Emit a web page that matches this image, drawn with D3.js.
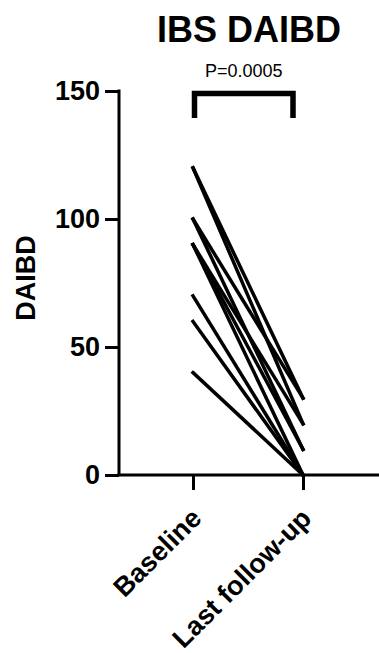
<!DOCTYPE html>
<html>
<head>
<meta charset="utf-8">
<script src="https://cdn.jsdelivr.net/npm/d3@7"></script>
<style>
  html, body { margin: 0; padding: 0; background: #fff; }
  svg { display: block; font-family: "Liberation Sans", Arial, Helvetica, sans-serif; }
</style>
</head>
<body>
<svg id="chart" width="379" height="653"></svg>
<script>
// ---- data ----
const categories = ["Baseline", "Last follow-up"];
const baselineValues = [120, 120, 100, 100, 90, 90, 90, 70, 60, 40];
const followupValues = [30, 20, 30, 10, 20, 10, 0, 0, 0, 0];
const yTicks = [0, 50, 100, 150];
const titleText = "IBS DAIBD";
const yLabel = "DAIBD";
const pText = "P=0.0005";

// ---- layout ----
const svg = d3.select("#chart");
const axisX0 = 119, axisX1 = 379;
const yTop = 91, yBottom = 475;

const x = d3.scalePoint().domain(categories).range([193, 303]);
const y = d3.scaleLinear().domain([0, 150]).range([yBottom, yTop]);

// subject lines
const subjects = baselineValues.map((b, i) => [b, followupValues[i]]);
svg.append("g")
  .selectAll("line")
  .data(subjects)
  .join("line")
  .attr("x1", x(categories[0]))
  .attr("y1", d => y(d[0]))
  .attr("x2", x(categories[1]))
  .attr("y2", d => y(d[1]))
  .attr("stroke", "#000")
  .attr("stroke-width", 3.5)
  .attr("stroke-linecap", "square");

// y axis
const yAxis = svg.append("g")
  .attr("transform", `translate(${axisX0},0)`)
  .call(d3.axisLeft(y).tickValues(yTicks).tickSize(14).tickSizeOuter(0).tickPadding(5));
yAxis.select(".domain").attr("stroke-width", 3).attr("stroke", "#000");
yAxis.selectAll(".tick line").attr("stroke-width", 3).attr("stroke", "#000");
yAxis.selectAll(".tick text")
  .attr("font-size", 27).attr("font-weight", "bold").attr("fill", "#000")
  .attr("font-family", "Liberation Sans, Arial, sans-serif");
yAxis.select(".domain").attr("d", `M0,${yTop - 1.5}V${yBottom}`);

// x axis
const xAxis = svg.append("g")
  .attr("transform", `translate(0,${yBottom})`)
  .call(d3.axisBottom(x).tickSize(15).tickSizeOuter(0).tickFormat(""));
xAxis.select(".domain").attr("d", `M${axisX0 - 1.5},0H${axisX1}`).attr("stroke-width", 3).attr("stroke", "#000");
xAxis.selectAll(".tick line").attr("stroke-width", 3).attr("stroke", "#000");

// rotated x labels
svg.append("g")
  .selectAll("text")
  .data(categories)
  .join("text")
  .attr("transform", d => `translate(${x(d) + 10},${yBottom + 45}) rotate(-45)`)
  .attr("text-anchor", "end")
  .attr("font-size", 27)
  .attr("font-weight", "bold")
  .attr("fill", "#000")
  .text(d => d);

// y label
svg.append("text")
  .attr("transform", `translate(35,${(y(0) + y(150)) / 2 - 5}) rotate(-90)`)
  .attr("text-anchor", "middle")
  .attr("font-size", 27)
  .attr("font-weight", "bold")
  .attr("fill", "#000")
  .text(yLabel);

// title
svg.append("text")
  .attr("x", (axisX0 + axisX1) / 2)
  .attr("y", 42)
  .attr("text-anchor", "middle")
  .attr("font-size", 36)
  .attr("font-weight", "bold")
  .attr("fill", "#000")
  .text(titleText);

// significance bracket
const bx0 = x(categories[0]) + 1.5, bx1 = x(categories[1]) - 10;
const bTop = y(149), bBot = y(139.5);
svg.append("path")
  .attr("d", `M${bx0},${bBot}V${bTop}H${bx1}V${bBot}`)
  .attr("fill", "none")
  .attr("stroke", "#000")
  .attr("stroke-width", 5.5)
  .attr("stroke-linejoin", "miter");

svg.append("text")
  .attr("x", (bx0 + bx1) / 2)
  .attr("y", 77)
  .attr("text-anchor", "middle")
  .attr("font-size", 18)
  .attr("fill", "#000")
  .text(pText);
</script>
</body>
</html>
